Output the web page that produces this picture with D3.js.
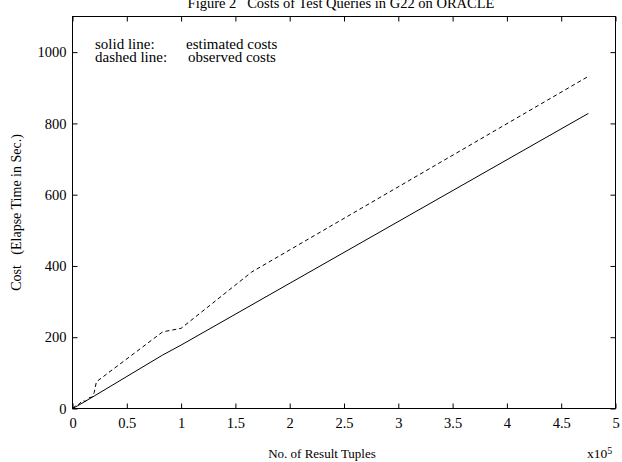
<!DOCTYPE html>
<html>
<head>
<meta charset="utf-8">
<script src="https://cdn.jsdelivr.net/npm/d3@7"></script>
<style>
  body { margin: 0; background: #fff; }
  svg text { font-family: "Liberation Serif", "Times New Roman", serif; fill: #000; white-space: pre; }
</style>
</head>
<body>
<div id="chart"></div>
<script>
// x in units of 1e5 result tuples, y = cost in seconds
const estX = [0, 0.05, 0.2, 0.83, 1.0, 4.75];
const estY = [0, 8, 35, 150, 178, 828];
const obsX = [0, 0.03, 0.06, 0.09, 0.12, 0.15, 0.18, 0.2, 0.22, 0.83, 1.0, 1.65, 4.75];
const obsY = [0, 8, 12, 22, 20, 30, 32, 45, 75, 215, 225, 383, 932];
const xTicks = [0, 0.5, 1, 1.5, 2, 2.5, 3, 3.5, 4, 4.5, 5];
const yTicks = [0, 200, 400, 600, 800, 1000];

const W = 622, H = 462;
const mLeft = 72.5, mRight = 615.5, mTop = 16.5, mBottom = 408.5;

const svg = d3.select("#chart").append("svg")
  .attr("width", W).attr("height", H);

const x = d3.scaleLinear().domain([0, 5]).range([mLeft, mRight]);
const y = d3.scaleLinear().domain([0, 1100]).range([mBottom, mTop]);

// inward ticks on all four sides
const tk = 5;
function styleAxis(g) {
  g.select(".domain").remove();
  g.selectAll(".tick line").attr("stroke", "#000");
  g.selectAll(".tick text").style("font-size", "14.5px").attr("fill", "#000");
}

svg.append("g").attr("transform", `translate(0,${mBottom})`)
  .call(d3.axisBottom(x).tickValues(xTicks).tickSizeInner(-tk).tickSizeOuter(0)
    .tickPadding(9.5).tickFormat(d3.format("")))
  .call(styleAxis);

svg.append("g").attr("transform", `translate(0,${mTop})`)
  .call(d3.axisTop(x).tickValues(xTicks).tickSizeInner(-tk).tickSizeOuter(0).tickFormat(""))
  .call(styleAxis);

svg.append("g").attr("transform", `translate(${mLeft},0)`)
  .call(d3.axisLeft(y).tickValues(yTicks).tickSizeInner(-tk).tickSizeOuter(0)
    .tickPadding(6).tickFormat(d3.format("d")))
  .call(styleAxis);

svg.append("g").attr("transform", `translate(${mRight},0)`)
  .call(d3.axisRight(y).tickValues(yTicks).tickSizeInner(-tk).tickSizeOuter(0).tickFormat(""))
  .call(styleAxis);

svg.append("rect")
  .attr("x", mLeft).attr("y", mTop)
  .attr("width", mRight - mLeft).attr("height", mBottom - mTop)
  .attr("fill", "none").attr("stroke", "#000").attr("stroke-width", 1);

const line = d3.line().x(d => x(d[0])).y(d => y(d[1]));

svg.append("path")
  .datum(d3.zip(estX, estY))
  .attr("d", line)
  .attr("fill", "none").attr("stroke", "#000").attr("stroke-width", 1);

svg.append("path")
  .datum(d3.zip(obsX, obsY))
  .attr("d", line)
  .attr("fill", "none").attr("stroke", "#000").attr("stroke-width", 1)
  .attr("stroke-dasharray", "4,3");

// title (partly cut off at the top in the original)
svg.append("text")
  .attr("x", 341).attr("y", 7.5)
  .attr("text-anchor", "middle")
  .style("font-size", "14.5px")
  .text("Figure 2   Costs of Test Queries in G22 on ORACLE");

// legend text
const lg = svg.append("g").style("font-size", "15px");
lg.append("text").attr("x", 95).attr("y", 49).text("solid line:");
lg.append("text").attr("x", 186).attr("y", 49).text("estimated costs");
lg.append("text").attr("x", 95).attr("y", 61.5).text("dashed line:");
lg.append("text").attr("x", 188).attr("y", 61.5).text("observed costs");

// axis labels
svg.append("text")
  .attr("x", 322).attr("y", 458)
  .attr("text-anchor", "middle")
  .style("font-size", "13px")
  .text("No. of Result Tuples");

const ex = svg.append("text")
  .attr("x", 587).attr("y", 458)
  .style("font-size", "13.5px");
ex.append("tspan").text("x10");
ex.append("tspan").attr("dy", -4).style("font-size", "10px").text("5");

svg.append("text")
  .attr("transform", `translate(21,${(mTop + mBottom) / 2}) rotate(-90)`)
  .attr("text-anchor", "middle")
  .style("font-size", "14px")
  .text("Cost   (Elapse Time in Sec.)");
</script>
</body>
</html>
